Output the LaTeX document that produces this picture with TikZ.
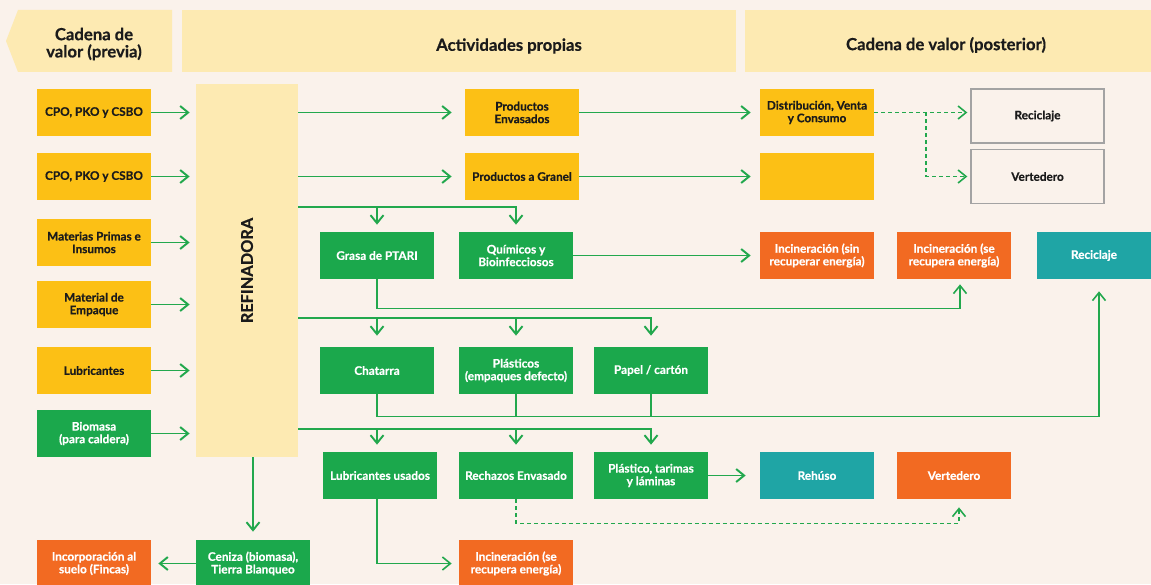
\documentclass[tikz,border=0pt]{standalone}
\usepackage{fontspec}
\setmainfont{Lato}[BoldFeatures={FakeBold=0.6}]
\usepackage{tikz}
\usetikzlibrary{arrows.meta,positioning,calc}
\definecolor{CadBg}{HTML}{FAF2EB}
\definecolor{CadCream}{HTML}{FDEAB2}
\definecolor{CadYellow}{HTML}{FCC015}
\definecolor{CadGreen}{HTML}{1BA84C}
\definecolor{CadOrange}{HTML}{F26A22}
\definecolor{CadTeal}{HTML}{1FA5A5}
\definecolor{CadArrow}{HTML}{22A84D}
\definecolor{CadGrey}{HTML}{A3A3A3}
\definecolor{CadInk}{HTML}{1B1B1B}
\newcommand{\boxfont}{\fontsize{6.7}{7.2}\selectfont\bfseries}
\newcommand{\headfont}{\fontsize{9.5}{9.8}\selectfont\bfseries}
\newcommand{\reffont}{\fontsize{9.3}{10}\selectfont\bfseries}
\tikzset{
  box/.style={rectangle,inner sep=0pt,align=center,font=\boxfont,
    minimum width=2.28cm,minimum height=0.94cm},
  insumo/.style={box,fill=CadYellow,text=CadInk},
  residuo/.style={box,fill=CadGreen,text=white},
  quema/.style={box,fill=CadOrange,text=white},
  reuso/.style={box,fill=CadTeal,text=white},
  destino/.style={box,draw=CadGrey,line width=0.8pt,fill=CadBg,text=CadInk,
    minimum width=2.66cm,minimum height=1.08cm},
  banner/.style={fill=CadCream},
  title/.style={font=\headfont,text=CadInk,align=center,inner sep=0pt},
  flow/.style={-{Straight Barb[length=1.6mm,width=2.6mm]},line width=1.1pt,draw=CadArrow,shorten >=1.4mm},
  feed/.style={line width=1.1pt,draw=CadArrow},
  hint/.style={flow,line width=0.9pt,dash pattern=on 0.8mm off 0.6mm,shorten >=0.6mm}
}

\begin{document}
\begin{tikzpicture}[x=0.02cm,y=-0.02cm]
  \useasboundingbox[fill=CadBg] (0,0) rectangle (1151,584);
  % headers
  \fill[banner] (18,10) -- (172,10) -- (172,72) -- (18,72) -- (6,41) -- cycle;
  \fill[banner] (182,10) rectangle (736,72);
  \fill[banner] (745,10) rectangle (1151,72);
  \node[title] (hprev) at (94,44) {Cadena de\\valor (previa)};
  \node[title] (hown) at (509,46) {Actividades propias};
  \node[title] (hpost) at (946,45) {Cadena de valor (posterior)};

  % inputs
  \node[insumo] (cpoA) at (94,112.5) {CPO, PKO y CSBO};
  \node[insumo] (cpoB) at (94,176.5) {CPO, PKO y CSBO};
  \node[insumo] (mat) at (94,242.5) {Materias Primas e\\Insumos};
  \node[insumo] (emp) at (94,304.5) {Material de\\Empaque};
  \node[insumo] (lub) at (94,370.5) {Lubricantes};
  \node[residuo] (bio) at (94,433.5) {Biomasa\\(para caldera)};
  \node[fill=CadCream,inner sep=0pt,minimum width=2.04cm,minimum height=7.46cm,
    label={[rotate=90,font=\reffont,text=CadInk]center:REFINADORA}] (ref) at (247,270.5) {};

  % own activities
  \node[insumo] (env) at (522,112.5) {Productos\\Envasados};
  \node[insumo] (gran) at (522,176.5) {Productos a Granel};
  \node[residuo] (grasa) at (377,255.5) {Grasa de PTARI};
  \node[residuo] (quim) at (516,255.5) {Químicos y\\Bioinfecciosos};
  \node[residuo] (chat) at (377,370.5) {Chatarra};
  \node[residuo] (plas) at (516,370.5) {Plásticos\\(empaques defecto)};
  \node[residuo] (pap) at (651,370.5) {Papel / cartón};
  \node[residuo] (lubU) at (380,475.5) {Lubricantes usados};
  \node[residuo] (rech) at (516,475.5) {Rechazos Envasado};
  \node[residuo] (plasT) at (651,475.5) {Plástico, tarimas\\y láminas};
  \node[residuo] (ceniza) at (253,563.5) {Ceniza (biomasa),\\Tierra Blanqueo};
  \node[quema] (incorp) at (94,563.5) {Incorporación al\\suelo (Fincas)};
  \node[quema] (incSe2) at (516,563.5) {Incineración (se\\recupera energía)};

  % downstream
  \node[insumo] (dist) at (817,112.5) {Distribución, Venta\\y Consumo};
  \node[insumo] (blank) at (817,176.5) {};
  \node[destino] (recW) at (1037.5,116) {Reciclaje};
  \node[destino] (verW) at (1037.5,176.5) {Vertedero};
  \node[quema] (incSin) at (817,255.5) {Incineración (sin\\recuperar energía)};
  \node[quema] (incSe) at (954,255.5) {Incineración (se\\recupera energía)};
  \node[reuso] (recT) at (1094,255.5) {Reciclaje};
  \node[reuso] (reh) at (817,475.5) {Rehúso};
  \node[quema] (vert) at (954,475.5) {Vertedero};

  % inputs into the refinery
  \foreach \src in {cpoA,cpoB,mat,emp,lub,bio}
    \draw[flow,shorten >=1.2mm] (\src) -- (\src -| ref.west);

  % products
  \draw[flow,shorten >=2.6mm] (ref.east |- env) -- (env);
  \draw[flow,shorten >=1.8mm] (env) -- (dist);
  \draw[flow,shorten >=2.6mm] (ref.east |- gran) -- (gran);
  \draw[flow,shorten >=1.8mm] (gran) -- (blank);
  \coordinate (fork) at (926,112.5);
  \draw[hint] (dist) -- (dist -| recW.west);
  \draw[hint] (fork) |- (verW);

  % residue taps
  \coordinate (tapA) at (298,207);
  \coordinate (tapB) at (298,318);
  \coordinate (tapC) at (298,429);
  \draw[flow] (tapA) -| (quim);
  \draw[flow] (tapA -| grasa) -- (grasa);
  \draw[flow,shorten >=2.2mm] (tapB) -| (pap);
  \draw[flow,shorten >=2.2mm] (tapB -| chat) -- (chat);
  \draw[flow,shorten >=2.2mm] (tapB -| plas) -- (plas);
  \draw[flow] (tapC) -| (plasT);
  \draw[flow] ([xshift=-0.06cm]tapC -| lubU) -- ([xshift=-0.06cm]lubU.north);
  \draw[flow] (tapC -| rech) -- (rech);

  % destinations
  \draw[flow,shorten >=1.8mm] (quim) -- (incSin);
  \draw[flow,line width=0.9pt,shorten >=1mm] (grasa.south) -- ++(0,29) -| ([xshift=0.12cm]incSe.south);
  \draw[flow,line width=0.9pt,shorten >=2.4mm] (chat.south) -- ++(0,22) -| ([xshift=0.1cm]recT.south);
  \draw[feed,line width=0.9pt] (plas.south) -- ++(0,22);
  \draw[feed,line width=0.9pt] (pap.south) -- ++(0,22);
  \draw[flow,shorten >=2.8mm] (plasT) -- (reh);
  \draw[hint,shorten >=1.6mm] (rech.south) -- ++(0,24) -| ([xshift=0.1cm]vert.south);
  \draw[flow,line width=0.9pt] ([xshift=-0.06cm]lubU.south) |- (incSe2);
  \draw[flow,shorten >=1.6mm] (ceniza |- ref.south) -- (ceniza);
  \draw[flow] (ceniza) -- (incorp);
\end{tikzpicture}
\end{document}
